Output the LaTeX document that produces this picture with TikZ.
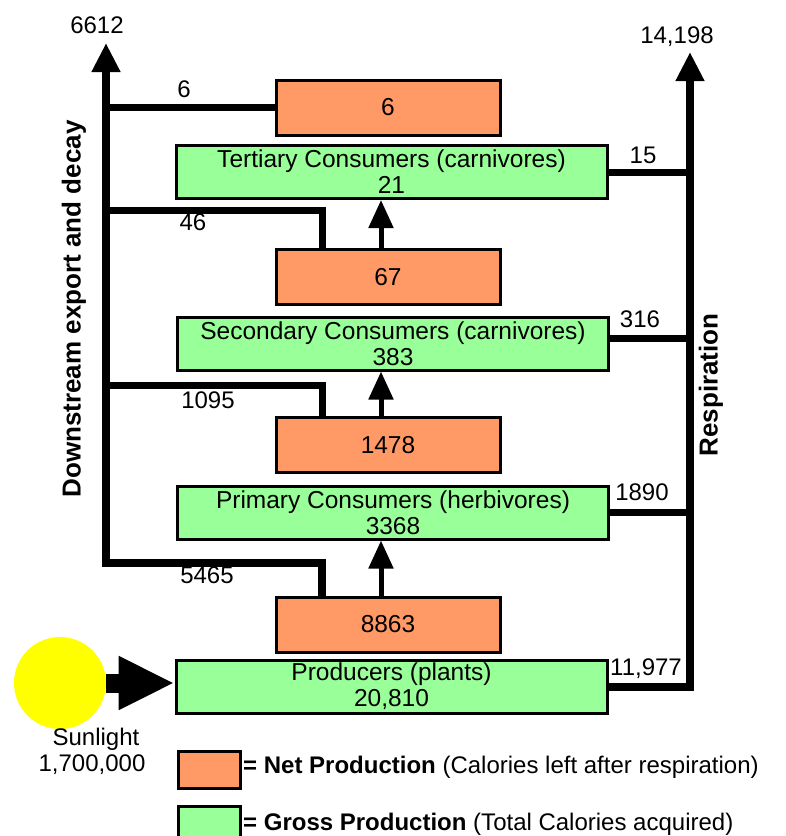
\documentclass[tikz,border=0pt]{standalone}
\usepackage{fontspec}
\setmainfont{Liberation Sans}
\usetikzlibrary{arrows.meta}
\definecolor{netc}{HTML}{FF9966}
\definecolor{grossc}{HTML}{99FF99}
\definecolor{sunc}{HTML}{FFFF00}
\begin{document}
\begin{tikzpicture}[x=1pt,y=-1pt,
  box/.style={draw=black,line width=3pt,inner sep=0pt,font=\fontsize{24.5}{26}\selectfont,align=center},
  netbox/.style={box,fill=netc,minimum width=224pt,minimum height=55pt},
  grossbox/.style={box,fill=grossc,minimum width=431pt,minimum height=53pt},
  lbl/.style={font=\fontsize{24}{26}\selectfont,inner sep=0pt,anchor=base},
  flow/.style={line width=7pt,line join=miter},
  mainflow/.style={line width=8pt,line join=miter,-{Triangle[length=29pt,width=27pt]}},
  upflow/.style={line width=5pt,-{Triangle[length=28pt,width=24pt]}},
  vlabel/.style={font=\bfseries\fontsize{26}{26}\selectfont,rotate=90,inner sep=0pt},
]
\useasboundingbox (0,0) rectangle (786,836);

% boxes
\node[netbox] (n6) at (388,107.5) {6};
\node[grossbox] (g21) at (391.5,172) {Tertiary Consumers (carnivores)\\21};
\node[netbox] (n67) at (388,277) {67};
\node[grossbox] (g383) at (393,343.5) {Secondary Consumers (carnivores)\\383};
\node[netbox] (n1478) at (388,445) {1478};
\node[grossbox] (g3368) at (393,512.5) {Primary Consumers (herbivores)\\3368};
\node[netbox] (n8863) at (388,624.5) {8863};
\node[grossbox] (gprod) at (391.5,686.5) {Producers (plants)\\20,810};

% upward arrows between trophic levels
\coordinate (a1) at ([xshift=-7pt]n67.north);
\coordinate (a2) at ([xshift=-7pt]n1478.north);
\coordinate (a3) at ([xshift=-7pt]n8863.north);
\draw[upflow] (a1) -- (a1 |- g21.south);
\draw[upflow] (a2) -- (a2 |- g383.south);
\draw[upflow] (a3) -- (a3 |- g3368.south);

% left: downstream export and decay
\coordinate (ltop) at (106,43);
\coordinate (lc1) at (106,107.5);
\coordinate (lc2) at (106,210);
\coordinate (k2) at (322,210);
\coordinate (lc3) at (106,385);
\coordinate (k3) at (322,385);
\coordinate (lc4) at (106,563);
\coordinate (k4) at (322,563);
\draw[mainflow] (k4 |- n8863.north) -- (k4) -- (lc4) -- (ltop);
\draw[flow] (lc1) -- (n6.west);
\draw[flow] (lc2) -- (k2) -- (k2 |- n67.north);
\draw[flow] (lc3) -- (k3) -- (k3 |- n1478.north);

% right: respiration
\coordinate (rtop) at (690,52);
\coordinate (rc2) at (690,338);
\draw[mainflow] (gprod.east) -- (gprod.east -| rtop) -- (rtop);
\draw[flow] (g21.east) -- (g21.east -| rtop);
\draw[flow] (rc2 -| g383.east) -- (rc2);
\draw[flow] (g3368.east) -- (g3368.east -| rtop);

% sunlight
\node[circle,fill=sunc,minimum size=92pt,inner sep=0pt] (sun) at (60,683) {};
\draw[line width=19pt,-{Triangle[length=56pt,width=50pt]}] (sun.east) -- (sun.east -| gprod.west);

% flow labels
\node[lbl] (t6612) at (97,33) {6612};
\node[lbl] (t14198) at (677,43) {14,198};
\node[lbl] (t6) at (184,97) {6};
\node[lbl] (t46) at (193,230) {46};
\node[lbl] (t1095) at (208,408) {1095};
\node[lbl] (t5465) at (207,583) {5465};
\node[lbl] (t15) at (643,163) {15};
\node[lbl] (t316) at (640,327) {316};
\node[lbl] (t1890) at (642,500) {1890};
\node[lbl] (t11977) at (646,675) {11,977};
\node[lbl] (tsun) at (96,745) {Sunlight};
\node[lbl] (tsunv) at (92,771) {1,700,000};

\node[vlabel] (tdown) at (74,309) {Downstream export and decay};
\node[vlabel] (tresp) at (711,385) {Respiration};

% legend
\node[box,fill=netc,minimum width=62pt,minimum height=37pt] (legnet) at (209,769.5) {};
\node[lbl,anchor=base west] (legnett) at (243,773) {\textbf{= Net Production} (Calories left after respiration)};
\node[box,fill=grossc,minimum width=62pt,minimum height=36pt] (leggross) at (209,824) {};
\node[lbl,anchor=base west] (leggrosst) at (243,830) {\textbf{= Gross Production} (Total Calories acquired)};
\end{tikzpicture}
\end{document}
